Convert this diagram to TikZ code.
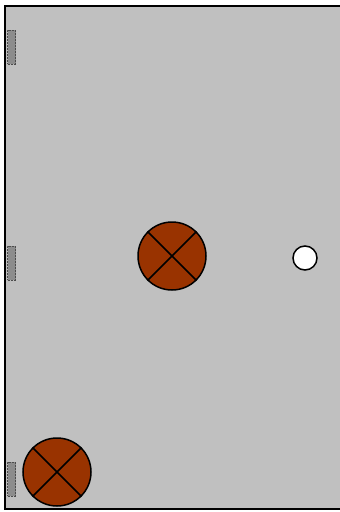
\documentclass[tikz,border=0pt]{standalone}
\usepackage{tikz}
\definecolor{tableGray}{HTML}{C0C0C0}
\definecolor{ballBrown}{HTML}{993300}
\definecolor{padGray}{HTML}{8C8C8C}

\begin{document}
\begin{tikzpicture}[x=1pt,y=-1pt,
    ball/.style={circle, draw=black, line width=1.5pt, fill=ballBrown, minimum size=68pt, inner sep=0pt},
    pad/.style={draw=black!70, densely dotted, line width=0.5pt, fill=padGray, minimum width=8pt, minimum height=34pt, inner sep=0pt}]
            \useasboundingbox (0,0) rectangle (340,512);
            \fill[tableGray] (5,6) rectangle (345,509);
            \draw[line width=1.8pt] (345,6) -- (5,6) -- (5,509) -- (345,509);
            \node[pad] (padA) at (11.5,47) {};
            \node[pad] (padB) at (11.5,263) {};
            \node[pad] (padC) at (11.5,479) {};
            \node[ball] (ballMid) at (172,256) {};
            \node[ball] (ballLow) at (57,472) {};
            \draw[line width=1.5pt] (ballMid.45) -- (ballMid.225);
            \draw[line width=1.5pt] (ballMid.135) -- (ballMid.315);
            \draw[line width=1.5pt] (ballLow.45) -- (ballLow.225);
            \draw[line width=1.5pt] (ballLow.135) -- (ballLow.315);
            \node[circle, draw=black, line width=1.5pt, fill=white, minimum size=24pt, inner sep=0pt] (puck) at (305,258) {};
        \end{tikzpicture}
\end{document}
